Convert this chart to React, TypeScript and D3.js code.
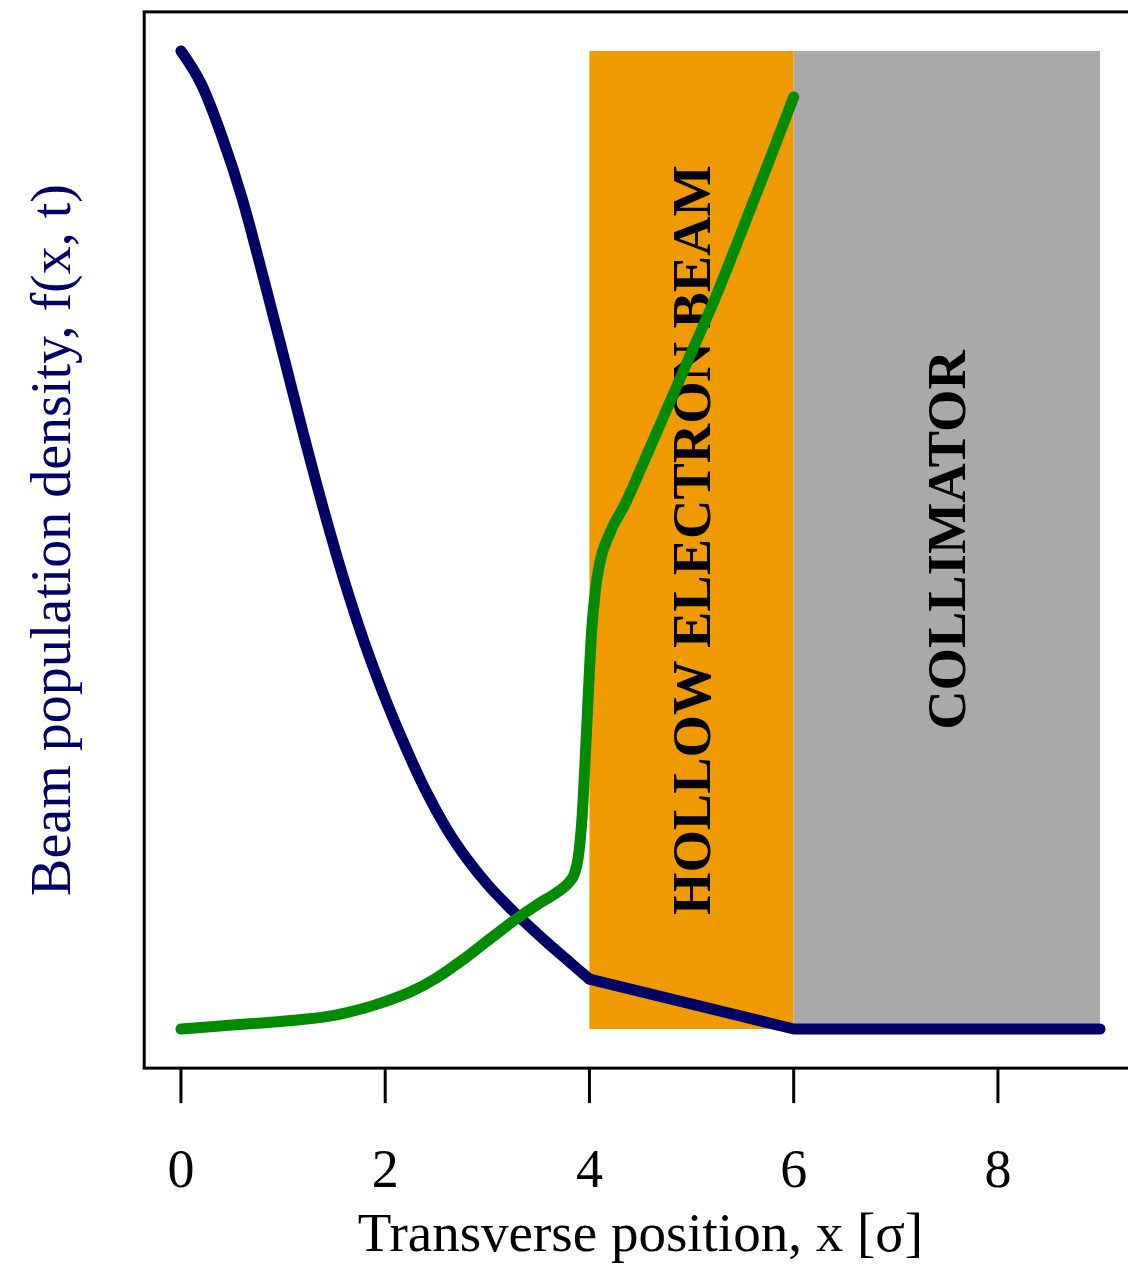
import React from "react";
import * as d3 from "d3";

// Core of the beam: smooth fall-off up to 4 sigma, then straight tails
const coreX = [0, 0.2, 0.4, 0.6, 0.8, 1.0, 1.2, 1.4, 1.6, 1.8, 2.0, 2.2, 2.4, 2.6, 2.8, 3.0, 3.2, 3.4, 3.6, 3.8, 3.9, 4.0];
const coreDensity = [1.0, 0.966, 0.913, 0.849, 0.771, 0.69, 0.608, 0.53, 0.458, 0.394, 0.338, 0.288, 0.243, 0.205, 0.174, 0.148, 0.126, 0.106, 0.087, 0.069, 0.06, 0.051];
const tailX = [4.0, 6.0, 9.0];
const tailDensity = [0.051, 0.0, 0.0];

// Halo population pushed outwards by the hollow electron beam
const haloX = [0, 0.5, 1.0, 1.5, 2.0, 2.25, 2.5, 2.75, 3.0, 3.25, 3.5, 3.7, 3.8, 3.85, 3.89, 3.93, 3.96, 3.99, 4.02, 4.06, 4.1, 4.2, 4.35, 4.5, 4.75, 5.0, 5.25, 5.5, 5.75, 6.0];
const haloDensity = [0.0, 0.004, 0.008, 0.014, 0.028, 0.038, 0.052, 0.07, 0.09, 0.11, 0.128, 0.141, 0.15, 0.158, 0.175, 0.22, 0.28, 0.345, 0.405, 0.45, 0.476, 0.507, 0.537, 0.572, 0.632, 0.692, 0.752, 0.818, 0.885, 0.953];

// Regions along the transverse axis
const regionNames = ["HOLLOW ELECTRON BEAM", "COLLIMATOR"];
const regionStart = [4, 6];
const regionEnd = [6, 9];
const regionColors = ["#EE9A00", "#A9A9A9"];

const xTicks = [0, 2, 4, 6, 8];

const W = 1128;
const H = 1264;
const serif = "'Liberation Serif', 'Times New Roman', Times, serif";
const navy = "#000066";
const green = "#008B00";

export default function App() {
  const x = d3.scaleLinear().domain([-0.36, 9.36]).range([144.2, 1136.8]);
  const y = d3.scaleLinear().domain([0, 1]).range([1029, 51]);

  const smooth = d3
    .line<[number, number]>()
    .x((d) => x(d[0]))
    .y((d) => y(d[1]))
    .curve(d3.curveMonotoneX);
  const straight = d3
    .line<[number, number]>()
    .x((d) => x(d[0]))
    .y((d) => y(d[1]));

  const core = coreX.map((v, i) => [v, coreDensity[i]] as [number, number]);
  const tail = tailX.map((v, i) => [v, tailDensity[i]] as [number, number]);
  const halo = haloX.map((v, i) => [v, haloDensity[i]] as [number, number]);

  const [x0, x1] = x.domain();
  const yLo = y(-0.04);
  const yHi = y(1.04);
  const left = x(x0);
  const right = x(x1);

  return (
    <svg
      width={W}
      height={H}
      style={{ position: "absolute", left: 0, top: 0, background: "#fff" }}
      fontFamily={serif}
    >
      <rect x={0} y={0} width={W} height={H} fill="#fff" />
      {regionNames.map((name, i) => {
        const xa = x(regionStart[i]);
        const xb = x(regionEnd[i]);
        const cx = (xa + xb) / 2;
        const cy = (y(0) + y(1)) / 2;
        return (
          <g key={name}>
            <rect x={xa} y={y(1)} width={xb - xa} height={y(0) - y(1)} fill={regionColors[i]} />
            <text
              transform={`translate(${cx + 18},${cy}) rotate(-90)`}
              textAnchor="middle"
              fontWeight="bold"
              fontSize={54.5}
              fill="#000"
            >
              {name}
            </text>
          </g>
        );
      })}

      <path d={smooth(core) ?? ""} fill="none" stroke={navy} strokeWidth={11} strokeLinecap="round" strokeLinejoin="round" />
      <path d={straight(tail) ?? ""} fill="none" stroke={navy} strokeWidth={11} strokeLinecap="round" strokeLinejoin="round" />
      <path d={smooth(halo) ?? ""} fill="none" stroke={green} strokeWidth={11} strokeLinecap="round" strokeLinejoin="round" />

      {/* plot frame */}
      <rect x={left} y={yHi} width={right - left} height={yLo - yHi} fill="none" stroke="#000" strokeWidth={3} />

      {/* x axis */}
      {xTicks.map((t) => (
        <g key={t}>
          <line x1={x(t)} x2={x(t)} y1={yLo} y2={yLo + 35} stroke="#000" strokeWidth={3} />
          <text x={x(t)} y={1187} textAnchor="middle" fontSize={54} fill="#000">
            {t}
          </text>
        </g>
      ))}
      <text x={(left + right) / 2} y={1251} textAnchor="middle" fontSize={55} fill="#000">
        Transverse position, x [σ]
      </text>
      <text
        transform={`translate(70,${(yLo + yHi) / 2}) rotate(-90)`}
        textAnchor="middle"
        fontSize={56}
        fill={navy}
      >
        Beam population density, f(x, t)
      </text>
    </svg>
  );
}
